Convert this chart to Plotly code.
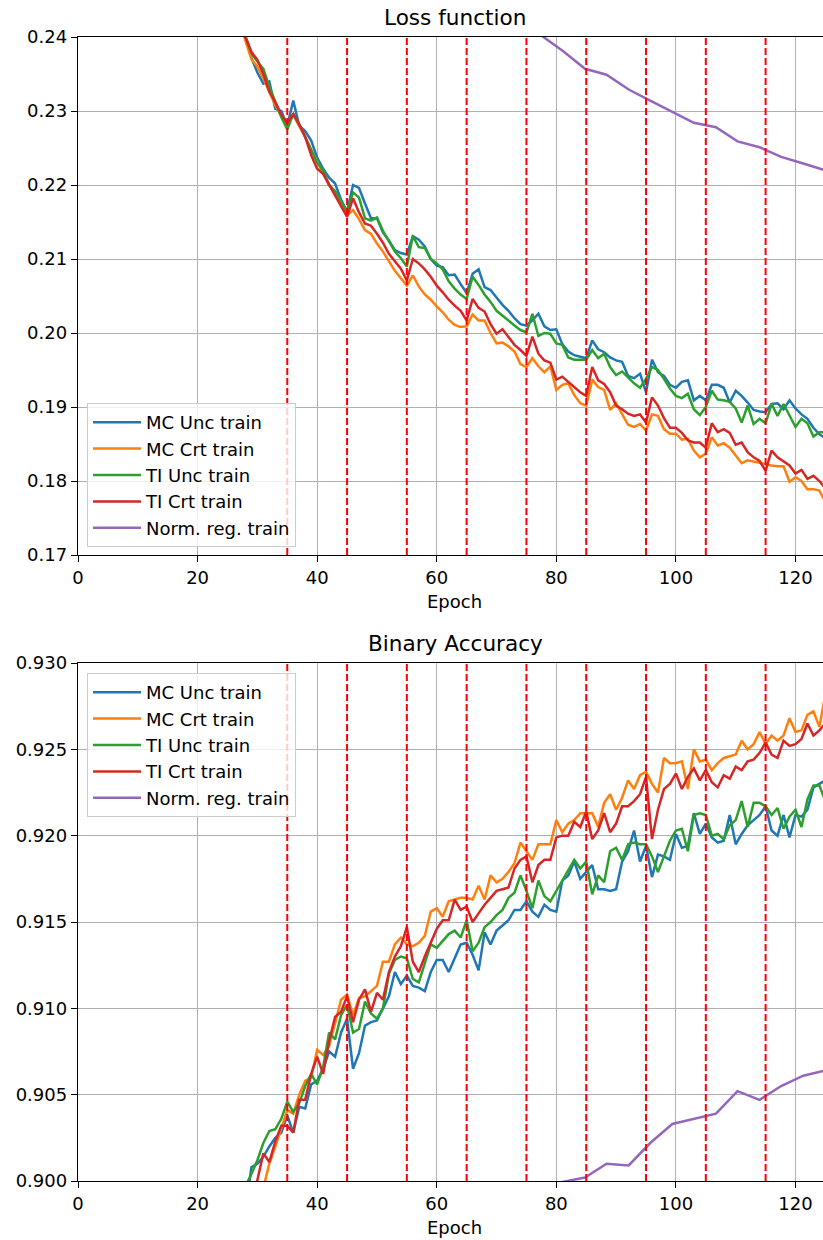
import plotly.graph_objects as go

EPOCHS = list(range(27, 126))

LOSS_MC_UNC = [0.2425, 0.2400, 0.2372, 0.2352, 0.2337, 0.2340, 0.2303, 0.2300, 0.2280, 0.2314,
               0.2280, 0.2273, 0.2260, 0.2237, 0.2222, 0.2210, 0.2202, 0.2180, 0.2164, 0.2200,
               0.2196, 0.2175, 0.2155, 0.2155, 0.2136, 0.2125, 0.2112, 0.2108, 0.2106, 0.2131,
               0.2126, 0.2117, 0.2100, 0.2091, 0.2089, 0.2078, 0.2079, 0.2066, 0.2054, 0.2080,
               0.2086, 0.2062, 0.2058, 0.2048, 0.2038, 0.2030, 0.2020, 0.2012, 0.2010, 0.2017,
               0.2026, 0.2009, 0.2004, 0.2005, 0.1985, 0.1975, 0.1970, 0.1968, 0.1966, 0.1990,
               0.1978, 0.1974, 0.1967, 0.1963, 0.1961, 0.1942, 0.1939, 0.1945, 0.1920, 0.1964,
               0.1947, 0.1942, 0.1930, 0.1926, 0.1934, 0.1936, 0.1909, 0.1915, 0.1909, 0.1930,
               0.1930, 0.1926, 0.1906, 0.1922, 0.1915, 0.1906, 0.1896, 0.1894, 0.1893, 0.1904,
               0.1905, 0.1897, 0.1909, 0.1898, 0.1890, 0.1884, 0.1872, 0.1863, 0.1858]
LOSS_MC_CRT = [0.2425, 0.2395, 0.2370, 0.2360, 0.2344, 0.2326, 0.2308, 0.2293, 0.2285, 0.2294,
               0.2280, 0.2265, 0.2248, 0.2232, 0.2218, 0.2200, 0.2188, 0.2172, 0.2159, 0.2166,
               0.2154, 0.2139, 0.2134, 0.2121, 0.2110, 0.2096, 0.2084, 0.2074, 0.2064, 0.2078,
               0.2063, 0.2052, 0.2045, 0.2036, 0.2028, 0.2018, 0.2011, 0.2008, 0.2009, 0.2025,
               0.2017, 0.2017, 0.2000, 0.1986, 0.1987, 0.1982, 0.1975, 0.1958, 0.1954, 0.1966,
               0.1955, 0.1947, 0.1955, 0.1923, 0.1930, 0.1932, 0.1916, 0.1905, 0.1902, 0.1937,
               0.1927, 0.1923, 0.1896, 0.1905, 0.1890, 0.1876, 0.1873, 0.1877, 0.1868, 0.1890,
               0.1888, 0.1870, 0.1864, 0.1864, 0.1856, 0.1857, 0.1841, 0.1832, 0.1837, 0.1859,
               0.1848, 0.1851, 0.1845, 0.1835, 0.1824, 0.1828, 0.1826, 0.1824, 0.1823, 0.1821,
               0.1820, 0.1820, 0.1799, 0.1805, 0.1800, 0.1789, 0.1789, 0.1787, 0.1772]
LOSS_TI_UNC = [0.2425, 0.2400, 0.2378, 0.2367, 0.2357, 0.2333, 0.2312, 0.2292, 0.2275, 0.2296,
               0.2282, 0.2265, 0.2248, 0.2230, 0.2220, 0.2200, 0.2192, 0.2177, 0.2164, 0.2190,
               0.2183, 0.2155, 0.2152, 0.2156, 0.2138, 0.2124, 0.2110, 0.2101, 0.2090, 0.2131,
               0.2116, 0.2115, 0.2100, 0.2094, 0.2086, 0.2070, 0.2060, 0.2052, 0.2046, 0.2076,
               0.2065, 0.2052, 0.2042, 0.2030, 0.2024, 0.2017, 0.2010, 0.2004, 0.2001, 0.2026,
               0.1996, 0.2000, 0.1999, 0.1986, 0.1984, 0.1967, 0.1964, 0.1964, 0.1964, 0.1977,
               0.1966, 0.1972, 0.1954, 0.1943, 0.1948, 0.1940, 0.1932, 0.1926, 0.1938, 0.1954,
               0.1950, 0.1938, 0.1925, 0.1915, 0.1912, 0.1918, 0.1897, 0.1889, 0.1900, 0.1922,
               0.1910, 0.1909, 0.1907, 0.1898, 0.1879, 0.1902, 0.1877, 0.1884, 0.1878, 0.1904,
               0.1888, 0.1904, 0.1888, 0.1873, 0.1884, 0.1878, 0.1860, 0.1866, 0.1866]
LOSS_TI_CRT = [0.2425, 0.2400, 0.2380, 0.2369, 0.2350, 0.2326, 0.2312, 0.2295, 0.2284, 0.2296,
               0.2282, 0.2265, 0.2240, 0.2222, 0.2215, 0.2200, 0.2187, 0.2170, 0.2157, 0.2182,
               0.2163, 0.2148, 0.2145, 0.2134, 0.2122, 0.2107, 0.2097, 0.2087, 0.2071, 0.2100,
               0.2094, 0.2086, 0.2076, 0.2064, 0.2055, 0.2045, 0.2037, 0.2030, 0.2017, 0.2046,
               0.2034, 0.2029, 0.2012, 0.1999, 0.2005, 0.1995, 0.1984, 0.1977, 0.1969, 0.1995,
               0.1972, 0.1963, 0.1960, 0.1937, 0.1941, 0.1934, 0.1927, 0.1920, 0.1915, 0.1954,
               0.1936, 0.1931, 0.1920, 0.1902, 0.1897, 0.1891, 0.1888, 0.1890, 0.1879, 0.1913,
               0.1902, 0.1885, 0.1872, 0.1872, 0.1865, 0.1855, 0.1852, 0.1852, 0.1845, 0.1878,
               0.1866, 0.1870, 0.1865, 0.1849, 0.1852, 0.1839, 0.1832, 0.1827, 0.1814, 0.1841,
               0.1832, 0.1827, 0.1821, 0.1810, 0.1815, 0.1803, 0.1807, 0.1800, 0.1790]

ACC_MC_UNC = [0.8985, 0.8981, 0.9008, 0.9010, 0.9014, 0.9020, 0.9025, 0.9028, 0.9038, 0.9028,
              0.9043, 0.9042, 0.9056, 0.9058, 0.9065, 0.9075, 0.9072, 0.9086, 0.9094, 0.9065,
              0.9074, 0.9090, 0.9092, 0.9093, 0.9100, 0.9107, 0.9121, 0.9114, 0.9119, 0.9113,
              0.9112, 0.9110, 0.9121, 0.9128, 0.9128, 0.9121, 0.9129, 0.9137, 0.9138, 0.9131,
              0.9122, 0.9144, 0.9137, 0.9145, 0.9148, 0.9151, 0.9157, 0.9157, 0.9162, 0.9156,
              0.9153, 0.9160, 0.9157, 0.9156, 0.9174, 0.9177, 0.9185, 0.9175, 0.9179, 0.9183,
              0.9169, 0.9169, 0.9168, 0.9169, 0.9185, 0.9191, 0.9203, 0.9185, 0.9194, 0.9176,
              0.9189, 0.9188, 0.9186, 0.9201, 0.9193, 0.9194, 0.9213, 0.9201, 0.9207, 0.9199,
              0.9196, 0.9197, 0.9212, 0.9195, 0.9201, 0.9206, 0.9209, 0.9212, 0.9217, 0.9203,
              0.9200, 0.9212, 0.9199, 0.9212, 0.9211, 0.9215, 0.9228, 0.9230, 0.9232]
ACC_MC_CRT = [0.8970, 0.8978, 0.8982, 0.8985, 0.8996, 0.9010, 0.9020, 0.9030, 0.9041, 0.9039,
              0.9050, 0.9058, 0.9060, 0.9076, 0.9073, 0.9078, 0.9091, 0.9105, 0.9108, 0.9096,
              0.9106, 0.9107, 0.9110, 0.9113, 0.9127, 0.9127, 0.9137, 0.9141, 0.9137, 0.9136,
              0.9138, 0.9142, 0.9156, 0.9158, 0.9153, 0.9162, 0.9163, 0.9164, 0.9164, 0.9163,
              0.9171, 0.9163, 0.9177, 0.9173, 0.9175, 0.9179, 0.9184, 0.9196, 0.9191, 0.9186,
              0.9195, 0.9195, 0.9195, 0.9209, 0.9202, 0.9207, 0.9209, 0.9213, 0.9213, 0.9213,
              0.9205, 0.9219, 0.9224, 0.9215, 0.9222, 0.9232, 0.9227, 0.9235, 0.9237, 0.9230,
              0.9225, 0.9245, 0.9242, 0.9242, 0.9243, 0.9227, 0.9250, 0.9243, 0.9244, 0.9238,
              0.9242, 0.9245, 0.9246, 0.9247, 0.9255, 0.9250, 0.9253, 0.9260, 0.9253, 0.9258,
              0.9255, 0.9258, 0.9268, 0.9260, 0.9261, 0.9270, 0.9272, 0.9263, 0.9282]
ACC_TI_UNC = [0.8990, 0.8997, 0.9004, 0.9012, 0.9022, 0.9029, 0.9030, 0.9036, 0.9046, 0.9040,
              0.9045, 0.9055, 0.9062, 0.9056, 0.9066, 0.9086, 0.9082, 0.9096, 0.9102, 0.9086,
              0.9088, 0.9104, 0.9097, 0.9094, 0.9100, 0.9120, 0.9128, 0.9130, 0.9129, 0.9117,
              0.9115, 0.9126, 0.9137, 0.9135, 0.9139, 0.9143, 0.9145, 0.9141, 0.9151, 0.9133,
              0.9138, 0.9147, 0.9150, 0.9154, 0.9157, 0.9164, 0.9167, 0.9177, 0.9168, 0.9158,
              0.9174, 0.9165, 0.9162, 0.9168, 0.9174, 0.9180, 0.9186, 0.9181, 0.9185, 0.9166,
              0.9177, 0.9173, 0.9191, 0.9193, 0.9186, 0.9195, 0.9196, 0.9195, 0.9195, 0.9188,
              0.9179, 0.9188, 0.9197, 0.9203, 0.9204, 0.9191, 0.9212, 0.9213, 0.9212, 0.9200,
              0.9201, 0.9198, 0.9206, 0.9209, 0.9220, 0.9205, 0.9219, 0.9219, 0.9217, 0.9212,
              0.9216, 0.9204, 0.9211, 0.9215, 0.9205, 0.9221, 0.9229, 0.9229, 0.9220]
ACC_TI_CRT = [0.8980, 0.8983, 0.8985, 0.9001, 0.9016, 0.9011, 0.9023, 0.9032, 0.9032, 0.9028,
              0.9047, 0.9047, 0.9062, 0.9072, 0.9062, 0.9081, 0.9095, 0.9098, 0.9107, 0.9092,
              0.9105, 0.9111, 0.9098, 0.9109, 0.9105, 0.9121, 0.9130, 0.9136, 0.9147, 0.9127,
              0.9121, 0.9130, 0.9138, 0.9146, 0.9151, 0.9151, 0.9163, 0.9157, 0.9159, 0.9150,
              0.9155, 0.9160, 0.9164, 0.9168, 0.9169, 0.9170, 0.9181, 0.9186, 0.9188, 0.9173,
              0.9183, 0.9186, 0.9186, 0.9199, 0.9200, 0.9200, 0.9208, 0.9205, 0.9214, 0.9198,
              0.9203, 0.9213, 0.9202, 0.9207, 0.9217, 0.9217, 0.9220, 0.9224, 0.9234, 0.9198,
              0.9215, 0.9227, 0.9230, 0.9236, 0.9227, 0.9234, 0.9239, 0.9232, 0.9238, 0.9231,
              0.9228, 0.9235, 0.9233, 0.9240, 0.9238, 0.9243, 0.9244, 0.9248, 0.9254, 0.9247,
              0.9245, 0.9255, 0.9252, 0.9253, 0.9256, 0.9265, 0.9258, 0.9261, 0.9265]

NORM_EPOCHS = [73.9, 77.5, 81.1, 84.8, 88.4, 92.1, 95.7, 99.4, 103.0, 106.7, 110.3, 114.0, 117.6, 121.3, 124.9]
NORM_LOSS = [0.2425, 0.2402, 0.2381, 0.2357, 0.2349, 0.2329, 0.2314, 0.2299, 0.2284, 0.2278,
             0.2259, 0.2251, 0.2238, 0.2229, 0.2220]
NORM_ACC = [0.8980, 0.8990, 0.89995, 0.9002, 0.9010, 0.9009, 0.9022, 0.9033, 0.9036, 0.9039,
            0.9052, 0.9047, 0.9055, 0.9061, 0.9064]

RESTARTS = [35, 45, 55, 65, 75, 85, 95, 105, 115]
X_TICKS = [0, 20, 40, 60, 80, 100, 120]
LOSS_TICKS = [0.17, 0.18, 0.19, 0.20, 0.21, 0.22, 0.23, 0.24]
ACC_TICKS = [0.900, 0.905, 0.910, 0.915, 0.920, 0.925, 0.930]

NAMES = ["MC Unc train", "MC Crt train", "TI Unc train", "TI Crt train", "Norm. reg. train"]
COLORS = ["#1f77b4", "#ff7f0e", "#2ca02c", "#d62728", "#9467bd"]

FONT = "DejaVu Sans"
W, H = 823, 1240
L, R, T, B = 78, 0, 37, 59
PH = H - T - B  # plot-area height in px


def py(p):
    """pixel row -> paper y"""
    return (H - B - p) / PH


def px(p):
    return (p - L) / (W - L - R)


fig = go.Figure()

loss_series = [LOSS_MC_UNC, LOSS_MC_CRT, LOSS_TI_UNC, LOSS_TI_CRT]
acc_series = [ACC_MC_UNC, ACC_MC_CRT, ACC_TI_UNC, ACC_TI_CRT]

for i, ys in enumerate(loss_series):
    fig.add_trace(go.Scatter(x=EPOCHS, y=ys, mode="lines", name=NAMES[i],
                             line=dict(color=COLORS[i], width=2.5), xaxis="x", yaxis="y",
                             legend="legend"))
fig.add_trace(go.Scatter(x=NORM_EPOCHS, y=NORM_LOSS, mode="lines", name=NAMES[4],
                         line=dict(color=COLORS[4], width=2.5), xaxis="x", yaxis="y",
                         legend="legend"))
for i, ys in enumerate(acc_series):
    fig.add_trace(go.Scatter(x=EPOCHS, y=ys, mode="lines", name=NAMES[i],
                             line=dict(color=COLORS[i], width=2.5), xaxis="x2", yaxis="y2",
                             legend="legend2"))
fig.add_trace(go.Scatter(x=NORM_EPOCHS, y=NORM_ACC, mode="lines", name=NAMES[4],
                         line=dict(color=COLORS[4], width=2.5), xaxis="x2", yaxis="y2",
                         legend="legend2"))

shapes = []
for xr, yr in [("x", "y domain"), ("x2", "y2 domain")]:
    for e in RESTARTS:
        shapes.append(dict(type="line", xref=xr, yref=yr, x0=e, x1=e, y0=0, y1=1,
                           line=dict(color="#ff0000", width=2, dash="7px,3px")))

axis_common = dict(showline=True, linecolor="black", linewidth=1.4, mirror=True,
                   ticks="outside", ticklen=6, tickwidth=1.4, tickcolor="black",
                   showgrid=True, gridcolor="#b0b0b0", gridwidth=1.4, zeroline=False,
                   tickfont=dict(family=FONT, size=18, color="black"))

top_dom = [py(555), 1.0]
bot_dom = [0.0, py(663)]

legend_common = dict(font=dict(family=FONT, size=18, color="black"),
                     bgcolor="rgba(255,255,255,0.8)", bordercolor="#cccccc", borderwidth=1,
                     xanchor="left", yanchor="top", x=px(87), itemwidth=48,
                     tracegroupgap=0)

fig.update_layout(
    width=W, height=H,
    margin=dict(l=L, r=R, t=T, b=B),
    paper_bgcolor="white", plot_bgcolor="white",
    font=dict(family=FONT, size=18, color="black"),
    showlegend=True,
    xaxis=dict(domain=[0, 1], range=[0, 124.6], anchor="y", tickvals=X_TICKS, **axis_common),
    yaxis=dict(domain=top_dom, range=[0.17, 0.24], anchor="x", tickvals=LOSS_TICKS,
               tickformat=".2f", **axis_common),
    xaxis2=dict(domain=[0, 1], range=[0, 124.6], anchor="y2", tickvals=X_TICKS, **axis_common),
    yaxis2=dict(domain=bot_dom, range=[0.900, 0.930], anchor="x2", tickvals=ACC_TICKS,
                tickformat=".3f", **axis_common),
    legend=dict(y=py(403), **legend_common),
    legend2=dict(y=py(673), **legend_common),
    shapes=shapes,
    annotations=[
        dict(text="Loss function", xref="paper", yref="paper", x=px(455), y=py(18),
             xanchor="center", yanchor="middle", showarrow=False,
             font=dict(family=FONT, size=21.6, color="black")),
        dict(text="Epoch", xref="paper", yref="paper", x=px(454), y=py(601),
             xanchor="center", yanchor="middle", showarrow=False,
             font=dict(family=FONT, size=18, color="black")),
        dict(text="Binary Accuracy", xref="paper", yref="paper", x=px(455), y=py(643),
             xanchor="center", yanchor="middle", showarrow=False,
             font=dict(family=FONT, size=21.6, color="black")),
        dict(text="Epoch", xref="paper", yref="paper", x=px(454), y=py(1227),
             xanchor="center", yanchor="middle", showarrow=False,
             font=dict(family=FONT, size=18, color="black")),
    ],
)

fig.write_html("out.html")
